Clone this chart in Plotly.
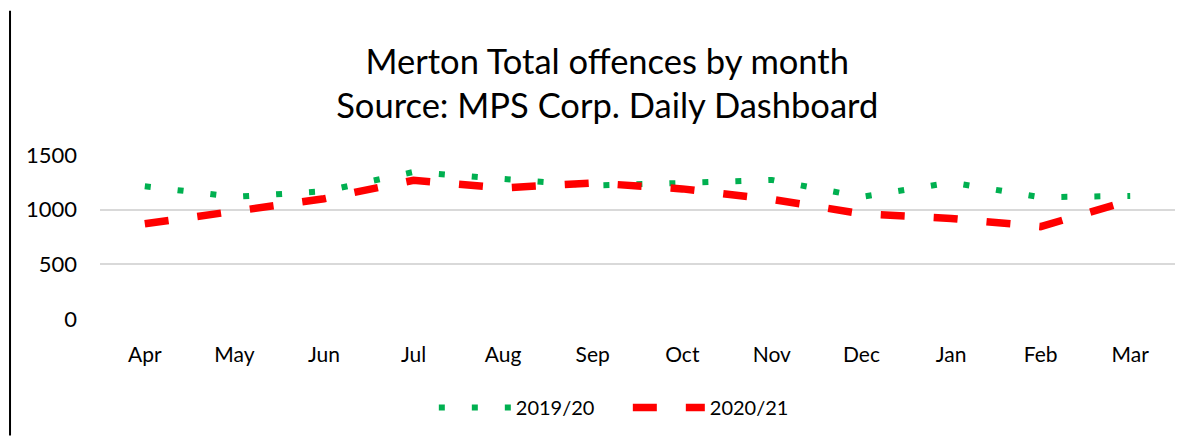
import plotly.graph_objects as go

months = ['Apr', 'May', 'Jun', 'Jul', 'Aug', 'Sep', 'Oct', 'Nov', 'Dec', 'Jan', 'Feb', 'Mar']
offences_2019_20 = [1214, 1117, 1168, 1345, 1281, 1221, 1244, 1272, 1117, 1249, 1114, 1126]
offences_2020_21 = [871, 980, 1100, 1269, 1199, 1244, 1190, 1094, 963, 920, 845, 1084]

font_name = 'Lato, Calibri, sans-serif'

fig = go.Figure()
fig.add_trace(go.Scatter(
    x=months, y=offences_2019_20, name='2019/20', mode='lines',
    line=dict(color='#00B050', width=6, dash='6px,27px'),
))
fig.add_trace(go.Scatter(
    x=months, y=offences_2020_21, name='2020/21', mode='lines',
    line=dict(color='#FF0000', width=7.5, dash='24px,29px'),
))

# page body has an 8px margin, so the figure is a bit smaller than the window
fig.update_layout(
    width=1189, height=429,
    margin=dict(l=92, r=22, t=147, b=117),
    paper_bgcolor='white', plot_bgcolor='white',
    font=dict(family=font_name, color='black', size=20),
    title=dict(text='Merton Total offences by month<br>Source: MPS Corp. Daily Dashboard',
               x=0.504, xanchor='center', y=0.847, yanchor='middle',
               font=dict(size=34.5, family=font_name)),
    showlegend=True,
    legend=dict(orientation='h', x=0.491, xanchor='center', y=-0.53, yanchor='middle',
                font=dict(size=20), itemwidth=72, entrywidth=107,
                bgcolor='rgba(0,0,0,0)'),
)
fig.update_xaxes(range=[-0.5, 11.5], showgrid=False, showline=False, ticks='',
                 ticklabelstandoff=21, tickfont=dict(size=21))
fig.update_yaxes(range=[0, 1500], tickvals=[0, 500, 1000, 1500], showgrid=True,
                 gridcolor='#D9D9D9', gridwidth=1.5, zeroline=False, showline=False,
                 ticks='', ticklabelstandoff=22, tickfont=dict(size=22))

# black frame line on the left edge of the image
fig.add_shape(type='line', xref='paper', yref='paper',
              x0=-0.0837, x1=-0.0837, y0=-0.71, y1=1.88,
              line=dict(color='black', width=2))

fig.write_html("out.html")
